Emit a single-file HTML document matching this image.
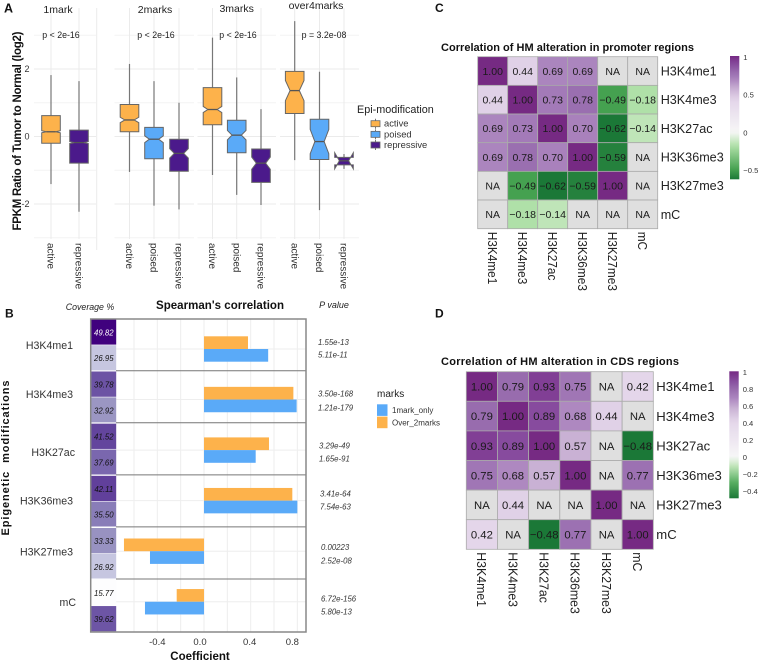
<!DOCTYPE html>
<html lang="en">
<head>
<meta charset="utf-8">
<title>Histone modification figure</title>
<style>
html,body{margin:0;padding:0;background:#fff;width:760px;height:662px;overflow:hidden}
svg{display:block;font-family:"Liberation Sans",sans-serif;filter:blur(0.3px)}
</style>
</head>
<body>
<svg id="fig" xmlns="http://www.w3.org/2000/svg" width="760" height="662" viewBox="0 0 760 662">
  <defs id="defs"></defs>
  <rect width="760" height="662" fill="#fff"/>
  <g id="gridA"></g>
  <g id="marksA"></g>
  <g id="panelB"></g>
  <g id="heatC"></g>
  <g id="heatD"></g>

  <text x="4" y="12.5" font-size="12.5" font-weight="bold" fill="#111">A</text>
  <text x="5" y="317.5" font-size="12" font-weight="bold" fill="#111">B</text>
  <text x="435" y="12" font-size="12" font-weight="bold" fill="#111">C</text>
  <text x="435" y="317.5" font-size="12" font-weight="bold" fill="#111">D</text>

  <text transform="translate(21,131) rotate(-90)" text-anchor="middle" font-size="11.5" font-weight="bold" fill="#111" textLength="199" lengthAdjust="spacing">FPKM Ratio of Tumor to Normal (log2)</text>

  <text x="357" y="113" font-size="10.8" fill="#222">Epi-modification</text>

  <text x="90" y="310" text-anchor="middle" font-size="8.8" font-style="italic" fill="#222">Coverage %</text>
  <text x="220" y="309" text-anchor="middle" font-size="11.5" font-weight="bold" fill="#111" textLength="128" lengthAdjust="spacing">Spearman's correlation</text>
  <text x="334" y="308" text-anchor="middle" font-size="9" font-style="italic" fill="#222">P value</text>
  <text transform="translate(9,458) rotate(-90)" text-anchor="middle" font-size="11" font-weight="bold" fill="#111" textLength="155" lengthAdjust="spacing" xml:space="preserve">Epigenetic  modifications</text>
  <text x="200" y="660" text-anchor="middle" font-size="11.5" font-weight="bold" fill="#111">Coefficient</text>

  <text x="377" y="397" font-size="10" fill="#222">marks</text>

  <text x="441" y="51" font-size="11" font-weight="bold" fill="#111" textLength="253" lengthAdjust="spacing">Correlation of HM alteration in promoter regions</text>
  <text x="441" y="365" font-size="11" font-weight="bold" fill="#111" textLength="238" lengthAdjust="spacing">Correlation of HM alteration in CDS regions</text>
</svg>

<script>
/* ---------- Panel A data ---------- */
const facetNames = ["1mark", "2marks", "3marks", "over4marks"];
const facetPvalues = ["p < 2e-16", "p < 2e-16", "p < 2e-16", "p = 3.2e-08"];
const facetCategories = [
  ["active", "repressive"],
  ["active", "poised", "repressive"],
  ["active", "poised", "repressive"],
  ["active", "poised", "repressive"]
];
const whiskerHigh = [[1.82, 1.64], [2.15, 1.64, 1.0], [2.93, 1.75, 0.81], [3.42, 1.92, -0.52]];
const whiskerLow = [[-1.41, -2.23], [-1.05, -2.05, -2.16], [-1.14, -1.73, -2.03], [-0.7, -2.18, -0.96]];
const quartile3 = [[0.62, 0.19], [0.95, 0.27, -0.08], [1.45, 0.48, -0.37], [1.93, 0.51, -0.62]];
const quartile1 = [[-0.2, -0.79], [0.14, -0.66, -1.03], [0.35, -0.48, -1.36], [0.68, -0.68, -0.84]];
const medians = [[0.14, -0.18], [0.49, -0.08, -0.5], [0.8, 0.04, -0.79], [1.36, -0.15, -0.72]];
const notchSizes = [[0.03, 0.03], [0.08, 0.1, 0.14], [0.09, 0.14, 0.18], [0.3, 0.36, 0.24]];
const yTicksA = [2, 0, -2];
const yMinorA = [3, 1, -1, -3];
const legendA = ["active", "poised", "repressive"];

/* ---------- Panel B data ---------- */
const marks = ["H3K4me1", "H3K4me3", "H3K27ac", "H3K36me3", "H3K27me3", "mC"];
const over2marks = [0.377, 0.766, 0.557, 0.757, -0.686, -0.234];
const oneMarkOnly = [0.55, 0.794, 0.443, 0.8, -0.463, -0.506];
const coverageOver = [49.82, 39.78, 41.52, 42.11, 33.33, 15.77];
const coverageOne = [26.95, 32.92, 37.69, 35.50, 26.92, 39.62];
const pOver = ["1.55e-13", "3.50e-168", "3.29e-49", "3.41e-64", "0.00223", "6.72e-156"];
const pOne = ["5.11e-11", "1.21e-179", "1.65e-91", "7.54e-63", "2.52e-08", "5.80e-13"];
const xTicksB = ["-0.4", "0.0", "0.4", "0.8"];
const xGridB = [-0.6, -0.4, -0.2, 0, 0.2, 0.4, 0.6, 0.8];
const legendB = ["1mark_only", "Over_2marks"];

/* ---------- Panels C / D data ---------- */
const hmNames = ["H3K4me1", "H3K4me3", "H3K27ac", "H3K36me3", "H3K27me3", "mC"];
const corrPromoter = [
  [1.00, 0.44, 0.69, 0.69, null, null],
  [0.44, 1.00, 0.73, 0.78, -0.49, -0.18],
  [0.69, 0.73, 1.00, 0.70, -0.62, -0.14],
  [0.69, 0.78, 0.70, 1.00, -0.59, null],
  [null, -0.49, -0.62, -0.59, 1.00, null],
  [null, -0.18, -0.14, null, null, null]
];
const corrCDS = [
  [1.00, 0.79, 0.93, 0.75, null, 0.42],
  [0.79, 1.00, 0.89, 0.68, 0.44, null],
  [0.93, 0.89, 1.00, 0.57, null, -0.48],
  [0.75, 0.68, 0.57, 1.00, null, 0.77],
  [null, 0.44, null, null, 1.00, null],
  [0.42, null, -0.48, 0.77, null, 1.00]
];
const colorbarTicksC = [1, 0.5, 0, -0.5];
const colorbarTicksD = [1, 0.8, 0.6, 0.4, 0.2, 0, -0.2, -0.4];

/* ---------- helpers ---------- */
const NS = "http://www.w3.org/2000/svg";
function mk(tag, attrs, parent, content) {
  const e = document.createElementNS(NS, tag);
  for (const k in attrs) e.setAttribute(k, attrs[k]);
  if (content !== undefined) e.textContent = content;
  parent.appendChild(e);
  return e;
}
function hex(c) { return [1, 3, 5].map(i => parseInt(c.substr(i, 2), 16)); }
function ramp(stops, v) {
  if (v <= stops[0][0]) return stops[0][1];
  for (let i = 1; i < stops.length; i++) {
    if (v <= stops[i][0]) {
      const t = (v - stops[i - 1][0]) / (stops[i][0] - stops[i - 1][0]);
      const a = hex(stops[i - 1][1]), b = hex(stops[i][1]);
      return "rgb(" + a.map((x, j) => Math.round(x + (b[j] - x) * t)).join(",") + ")";
    }
  }
  return stops[stops.length - 1][1];
}
const FILL = { active: "#fdb24b", poised: "#5aaaf8", repressive: "#4b1a8b" };
const ORANGE = "#fdb24b", BLUE = "#5aaaf8";

/* ---------- Panel A ---------- */
const gridA = document.getElementById("gridA");
const marksA = document.getElementById("marksA");
const yA = v => 136.5 - 33.75 * v;
const facetX = [[34, 96], [114.5, 194], [197.5, 276], [280, 359]];
const catX = [[51, 79], [129.5, 154, 179], [212.5, 236.7, 261], [294.7, 319.5, 344]];
const titleX = [58, 155, 236.7, 316];
const titleY = [13, 13, 12, 9];
const pX = [61, 156, 238, 324];
const BOX_HALF = 9.3;

facetNames.forEach((name, f) => {
  const [x0, x1] = facetX[f];
  yMinorA.forEach(v => {
    const l = mk("line", { x1: x0, x2: x1, y1: yA(v), y2: yA(v), stroke: "#f3f3f3", "stroke-width": 1 }, gridA);
    
    
  });
  yTicksA.forEach(v => {
    const l = mk("line", { x1: x0, x2: x1, y1: yA(v), y2: yA(v), stroke: "#ebebeb", "stroke-width": 1 }, gridA);
    
    
  });
  const ft = mk("text", { x: titleX[f], y: titleY[f], "text-anchor": "middle", "font-size": 10.5, fill: "#222" }, marksA, name);
  
  
  const pt = mk("text", { x: pX[f], y: 38, "text-anchor": "middle", "font-size": 8.8, fill: "#222" }, marksA, facetPvalues[f]);
  
  

  facetCategories[f].forEach((cat, c) => {
    const x = catX[f][c];
    const vg = mk("line", { x1: x, x2: x, y1: 8, y2: 239, stroke: "#ebebeb", "stroke-width": 1 }, gridA);
    
    

    const w = mk("line", { x1: x, x2: x, y1: yA(whiskerHigh[f][c]), y2: yA(whiskerLow[f][c]), stroke: "#777", "stroke-width": 1.2 }, marksA);
    
    

    const q3 = yA(quartile3[f][c]), q1 = yA(quartile1[f][c]), m = yA(medians[f][c]);
    const dn = notchSizes[f][c] * 33.75;
    const L = x - BOX_HALF, R = x + BOX_HALF, il = x - BOX_HALF * 0.5, ir = x + BOX_HALF * 0.5;
    const pts = [[L, q3], [R, q3], [R, m - dn], [ir, m], [R, m + dn], [R, q1], [L, q1], [L, m + dn], [il, m], [L, m - dn]];
    const b = mk("polygon", { points: pts.map(p => p.join(",")).join(" "), fill: FILL[cat], stroke: "#666", "stroke-width": 1 }, marksA);
    
    

    const ml = mk("line", { x1: il, x2: ir, y1: m, y2: m, stroke: "#555", "stroke-width": 1.3 }, marksA);
    
    

    const t = mk("text", { transform: "translate(" + (x - 3.4) + ",243) rotate(90)", "font-size": 10, fill: "#333" }, marksA, cat);
    
    
  });
});
const edge = mk("line", { x1: 96.7, x2: 96.7, y1: 8, y2: 250, stroke: "#ebebeb", "stroke-width": 1 }, gridA);



yTicksA.forEach(v => {
  const t = mk("text", { x: 29.5, y: yA(v) + 3.2, "text-anchor": "end", "font-size": 9, fill: "#333" }, marksA, v < 0 ? "-" + Math.abs(v) : String(v));
  
  
});
legendA.forEach((lab, i) => {
  const yy = 123.7 + i * 10.65;
  const wl = mk("line", { x1: 375.5, x2: 375.5, y1: yy - 5, y2: yy + 5, stroke: "#777", "stroke-width": 1 }, marksA);
  
  
  const k = mk("rect", { x: 371, y: yy - 3, width: 9, height: 6, fill: FILL[lab], stroke: "#666", "stroke-width": 0.8 }, marksA);
  
  
  const t = mk("text", { x: 384, y: yy + 3, "font-size": 9.4, fill: "#333" }, marksA, lab);
  
  
});

/* ---------- Panel B ---------- */
const pb = document.getElementById("panelB");
const xB = v => 204 + 116.67 * v;
const rowCenter = i => 349 + 50.55 * i;
const purpleStops = [[15.77, "#fdfdfe"], [27, "#c6c6e0"], [33, "#9a95c3"], [40, "#6a51a3"], [50, "#3f007d"]];
const PANEL_TOP = 319, PANEL_BOTTOM = 632, PANEL_LEFT = 116, PANEL_RIGHT = 306;
const labelNudge = [0, -4, -1, -5];
const rowLabelRight = [73, 73, 75, 73, 73, 76];
const rowLabelY = [349, 398, 456, 504.5, 555.5, 606];
const pX1 = [318, 318, 319, 320, 321, 321];
const pYa = [345, 396.5, 448.5, 496.5, 550, 601.5];
const pYb = [357.5, 410.5, 461.5, 509.5, 563.5, 614.5];
const cellH = 25.9;

xGridB.forEach(v => {
  const g = mk("line", { x1: xB(v), x2: xB(v), y1: PANEL_TOP, y2: PANEL_BOTTOM, stroke: "#eeeeee", "stroke-width": 1 }, pb);
  
  
});
marks.forEach((name, i) => {
  const c = rowCenter(i);
  const g = mk("line", { x1: PANEL_LEFT, x2: PANEL_RIGHT, y1: c, y2: c, stroke: "#eeeeee", "stroke-width": 1 }, pb);
  
  

  const vo = over2marks[i], v1 = oneMarkOnly[i];
  const bo = mk("rect", { x: Math.min(xB(0), xB(vo)), y: c - 12.7, width: Math.abs(xB(vo) - xB(0)), height: 12.7, fill: ORANGE }, pb);
  
  
  const b1 = mk("rect", { x: Math.min(xB(0), xB(v1)), y: c, width: Math.abs(xB(v1) - xB(0)), height: 12.7, fill: BLUE }, pb);
  
  

  const rowTop = PANEL_TOP + i * 52.17;
  [coverageOver[i], coverageOne[i]].forEach((cv, k) => {
    const y0 = rowTop + k * 25.9 + 0.3;
    const cell = mk("rect", { x: 91, y: y0, width: 25.2, height: cellH - 0.6, fill: ramp(purpleStops, cv) }, pb);
    
    
    const ct = mk("text", { x: 103.8, y: y0 + 16, "text-anchor": "middle", "font-size": 7.8, "font-style": "italic", fill: cv > 49 ? "#fff" : "#111" }, pb, cv.toFixed(2));
    
    
  });

  const rl = mk("text", { x: rowLabelRight[i], y: rowLabelY[i], "text-anchor": "end", "font-size": 10.6, fill: "#333" }, pb, name);
  
  

  const pa = mk("text", { x: pX1[i], y: pYa[i], "font-size": 7.8, "font-style": "italic", fill: "#333" }, pb, pOver[i]);
  
  
  const pc = mk("text", { x: pX1[i], y: pYb[i], "font-size": 7.8, "font-style": "italic", fill: "#333" }, pb, pOne[i]);
  
  

  if (i > 0) {
    const s = mk("line", { x1: PANEL_LEFT, x2: PANEL_RIGHT, y1: 318.7 + i * 52.05, y2: 318.7 + i * 52.05, stroke: "#777", "stroke-width": 1 }, pb);
    
    
    const s2 = mk("line", { x1: 91, x2: PANEL_LEFT, y1: 318.7 + i * 52.05, y2: 318.7 + i * 52.05, stroke: "#fff", "stroke-width": 0.8 }, pb);
    
    
  }
});
const frame = mk("rect", { x: 90.7, y: PANEL_TOP, width: PANEL_RIGHT - 90.7, height: PANEL_BOTTOM - PANEL_TOP, fill: "none", stroke: "#888", "stroke-width": 1.5 }, pb);


xTicksB.forEach((lab, i) => {
  const t = mk("text", { x: xB(parseFloat(lab)) + labelNudge[i], y: 645, "text-anchor": "middle", "font-size": 9.5, fill: "#333" }, pb, lab);
  
  
});
legendB.forEach((lab, i) => {
  const k = mk("rect", { x: 377, y: 404.3 + i * 12.3, width: 10.5, height: 11.6, fill: i === 0 ? BLUE : ORANGE }, pb);
  
  
  const t = mk("text", { x: 392, y: 413 + i * 12.4, "font-size": 8, fill: "#333" }, pb, lab);
  
  
});

/* ---------- Panels C & D ---------- */
const posStops = [[0, "#f7f7f7"], [0.42, "#e4d6ea"], [0.57, "#c9b1d4"], [0.7, "#a981bc"], [0.78, "#9a6fb0"], [0.9, "#85489c"], [1, "#762a83"]];
const negStopsC = [[-0.62, "#1b7837"], [-0.49, "#45a150"], [-0.18, "#afe0a8"], [-0.14, "#bfe5b8"], [0, "#f7f7f7"]];
const negStopsD = [[-0.48, "#1b7837"], [-0.3, "#55ad5f"], [-0.1, "#c2e6bb"], [0, "#f7f7f7"]];

function heatmap(host, matrix, negStops, geo, ticks, id) {
  const fill = v => v === null ? "#dfdfdf" : (v >= 0 ? ramp(posStops, v) : ramp(negStops, v));
  const cw = geo.w / hmNames.length, ch = geo.h / hmNames.length;
  matrix.forEach((row, r) => {
    row.forEach((v, c) => {
      const x = geo.x + c * cw, y = geo.y + r * ch;
      const cell = mk("rect", { x: x, y: y, width: cw, height: ch, fill: fill(v), stroke: "#aaa", "stroke-width": 0.8 }, host);
      
      
      const label = v === null ? "NA" : v.toFixed(2).replace("-", "\u2212");
      const t = mk("text", { x: x + cw / 2, y: y + ch / 2 + geo.cell * 0.36, "text-anchor": "middle", "font-size": geo.cell, fill: "#1a1a1a" }, host, label);
      
      
    });
  });
  hmNames.forEach((name, i) => {
    const yl = mk("text", { x: geo.x + geo.w + 3, y: geo.y + (i + 0.5) * ch + geo.axis * 0.36, "font-size": geo.axis, fill: "#222" }, host, name);
    
    
    const xl = mk("text", { transform: "translate(" + (geo.x + (i + 0.5) * cw - geo.axis * 0.36) + "," + (geo.y + geo.h + 3) + ") rotate(90) scale(0.94,1)", "font-size": geo.axis, fill: "#222" }, host, name);
    
    
  });

  /* colour bar */
  const defs = document.getElementById("defs");
  const grad = mk("linearGradient", { id: id, x1: 0, y1: 0, x2: 0, y2: 1 }, defs);
  const lo = negStops[0][0];
  for (let i = 0; i <= 24; i++) {
    const f = i / 24, v = 1 - f * (1 - lo);
    mk("stop", { offset: f, "stop-color": v >= 0 ? ramp(posStops, v) : ramp(negStops, v) }, grad);
  }
  const bar = mk("rect", { x: geo.bx, y: geo.by, width: geo.bw, height: geo.bh, fill: "url(#" + id + ")" }, host);
  
  
  ticks.forEach(v => {
    const y = geo.tickTop + (1 - v) * geo.tickScale;
    const t = mk("text", { x: geo.bx + geo.bw + 4, y: y + 2.8, "font-size": 7.6, fill: "#333" }, host, v < 0 ? "\u2212" + Math.abs(v) : String(v));
    
    
  });
}

heatmap(document.getElementById("heatC"), corrPromoter, negStopsC,
  { x: 477.7, y: 56.7, w: 180, h: 172, cell: 10.5, axis: 12.6, bx: 730, by: 56, bw: 9.3, bh: 123.3, tickTop: 57, tickScale: 75.5 },
  colorbarTicksC, "cbC");
heatmap(document.getElementById("heatD"), corrCDS, negStopsD,
  { x: 466.3, y: 371.7, w: 187, h: 177.6, cell: 11.3, axis: 13.1, bx: 729.3, by: 371.3, bw: 9.4, bh: 127, tickTop: 372, tickScale: 85 },
  colorbarTicksD, "cbD");
</script>
</body>
</html>
